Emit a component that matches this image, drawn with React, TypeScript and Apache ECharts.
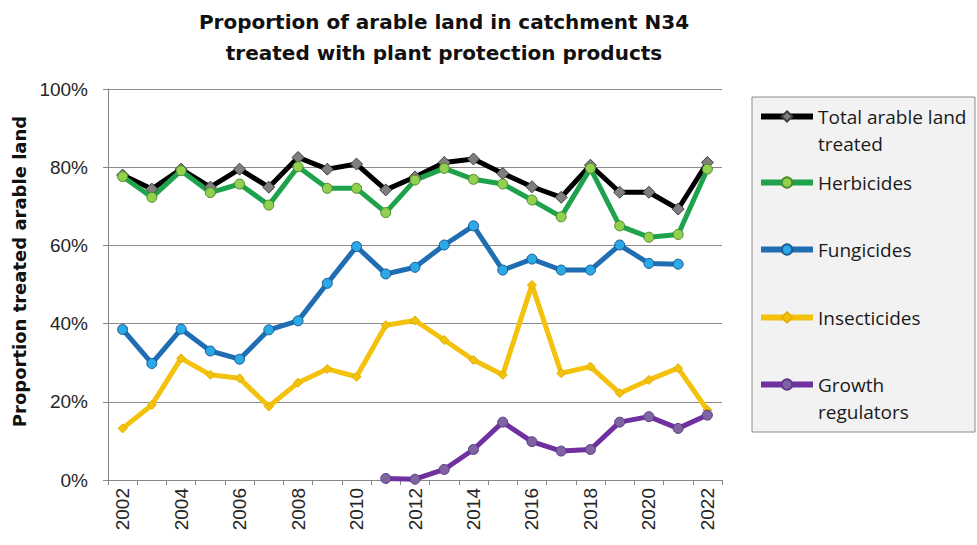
import React, { useEffect, useRef } from "react";
import * as echarts from "echarts";

const years = ["2002","2003","2004","2005","2006","2007","2008","2009","2010","2011","2012","2013","2014","2015","2016","2017","2018","2019","2020","2021","2022"];
const totalTreated = [78.0, 74.4, 79.5, 74.9, 79.5, 74.9, 82.5, 79.5, 80.8, 74.2, 77.5, 81.2, 82.1, 78.4, 75.0, 72.3, 80.5, 73.6, 73.6, 69.3, 81.2];
const herbicides = [77.6, 72.3, 79.1, 73.5, 75.7, 70.3, 80.1, 74.6, 74.6, 68.4, 76.7, 79.7, 76.9, 75.7, 71.6, 67.3, 79.7, 65.0, 62.1, 62.8, 79.5];
const fungicides = [38.5, 29.8, 38.6, 33.0, 30.9, 38.4, 40.7, 50.3, 59.7, 52.7, 54.4, 60.1, 65.0, 53.7, 56.5, 53.7, 53.7, 60.1, 55.4, 55.2, null];
const insecticides = [13.2, 19.2, 31.1, 26.9, 26.0, 18.8, 24.9, 28.4, 26.4, 39.6, 40.8, 35.8, 30.7, 26.9, 49.9, 27.3, 29.0, 22.2, 25.6, 28.6, 17.9];
const growthRegulators = [null, null, null, null, null, null, null, null, null, 0.4, 0.2, 2.7, 7.8, 14.8, 9.8, 7.4, 7.8, 14.8, 16.2, 13.2, 16.6];
const yTicks = { min: 0, max: 100, interval: 20 };

const seriesNames = ["Total arable land treated", "Herbicides", "Fungicides", "Insecticides", "Growth regulators"];

export default function App() {
  const ref = useRef<HTMLDivElement>(null);
  useEffect(() => {
    document.body.style.margin = "0";
    const chart = echarts.init(ref.current!, null, { renderer: "svg" });
    const mk = (name: string, data: any[], line: string, sym: string, fill: string, border: string, size: number) => ({
      name,
      type: "line",
      data,
      symbol: sym,
      symbolSize: size,
      showAllSymbol: true,
      connectNulls: false,
      lineStyle: { color: line, width: 5 },
      itemStyle: { color: fill, borderColor: border, borderWidth: 1 },
      emphasis: { disabled: true },
    });
    chart.setOption({
      animation: false,
      backgroundColor: "#ffffff",
      title: {
        text: "Proportion of arable land in catchment N34\ntreated with plant protection products",
        left: 439,
        top: 1,
        textAlign: "center",
        textStyle: { fontFamily: "DejaVu Sans", fontWeight: "bold", fontSize: 20, lineHeight: 31, color: "#111" },
      },
      graphic: [
        {
          type: "rect",
          shape: { x: 752, y: 97, width: 223, height: 335 },
          style: { fill: "#f2f2f2", stroke: "#8c8c8c", lineWidth: 1 },
          z: -1,
        },
      ],
      legend: {
        orient: "vertical",
        left: 758,
        top: 76,
        padding: 0,
        itemGap: 5,
        itemWidth: 52,
        itemHeight: 13,
        lineStyle: { width: 6 },
        formatter: (n: string) => (n === "Total arable land treated" ? "\nTotal arable land\ntreated" : n === "Growth regulators" ? "\nGrowth\nregulators" : n),
        textStyle: { fontFamily: "Open Sans", fontSize: 19, lineHeight: 27, color: "#1a1a1a" },
        data: [
          { name: seriesNames[0] },
          { name: seriesNames[1], textStyle: { padding: [7, 0, 7, 0] } },
          { name: seriesNames[2], textStyle: { padding: [28, 0, 28, 0] } },
          { name: seriesNames[3], textStyle: { padding: [8, 0, 8, 0] } },
          { name: seriesNames[4] },
        ],
      },
      grid: { left: 108, right: 255, top: 89, bottom: 65, containLabel: false },
      xAxis: {
        type: "category",
        data: years,
        boundaryGap: true,
        axisLine: { lineStyle: { color: "#868686", width: 1 } },
        axisTick: { show: true, interval: 0, length: 5, lineStyle: { color: "#868686" } },
        axisLabel: { interval: 1, rotate: 90, fontFamily: "Liberation Sans", fontSize: 19, color: "#262626", margin: 8 },
        splitLine: { show: false },
      },
      yAxis: {
        type: "value",
        min: yTicks.min,
        max: yTicks.max,
        interval: yTicks.interval,
        name: "Proportion treated arable land",
        nameLocation: "middle",
        nameRotate: 90,
        nameGap: 75,
        nameTextStyle: { fontFamily: "DejaVu Sans", fontWeight: "bold", fontSize: 18, color: "#111", padding: [0, 0, 0, 26] },
        axisLine: { show: true, lineStyle: { color: "#868686", width: 1 } },
        axisTick: { show: true, length: 5, lineStyle: { color: "#868686" } },
        axisLabel: { formatter: "{value}%", fontFamily: "Liberation Sans", fontSize: 19, color: "#262626", margin: 20 },
        splitLine: { show: true, lineStyle: { color: "#8c8c8c", width: 1 } },
      },
      series: [
        mk(seriesNames[0], totalTreated, "#000000", "diamond", "#7f7f7f", "#404040", 12),
        mk(seriesNames[1], herbicides, "#1fa24c", "circle", "#92d050", "#4e8a2a", 10),
        mk(seriesNames[2], fungicides, "#1f6db2", "circle", "#2aa9e6", "#1b5b94", 10),
        mk(seriesNames[3], insecticides, "#f4c20d", "diamond", "#f4c20d", "#e0b000", 9),
        mk(seriesNames[4], growthRegulators, "#7030a0", "circle", "#8064a2", "#5b3c87", 10),
      ],
    });
    return () => chart.dispose();
  }, []);
  return <div ref={ref} style={{ width: 977, height: 545 }} />;
}
